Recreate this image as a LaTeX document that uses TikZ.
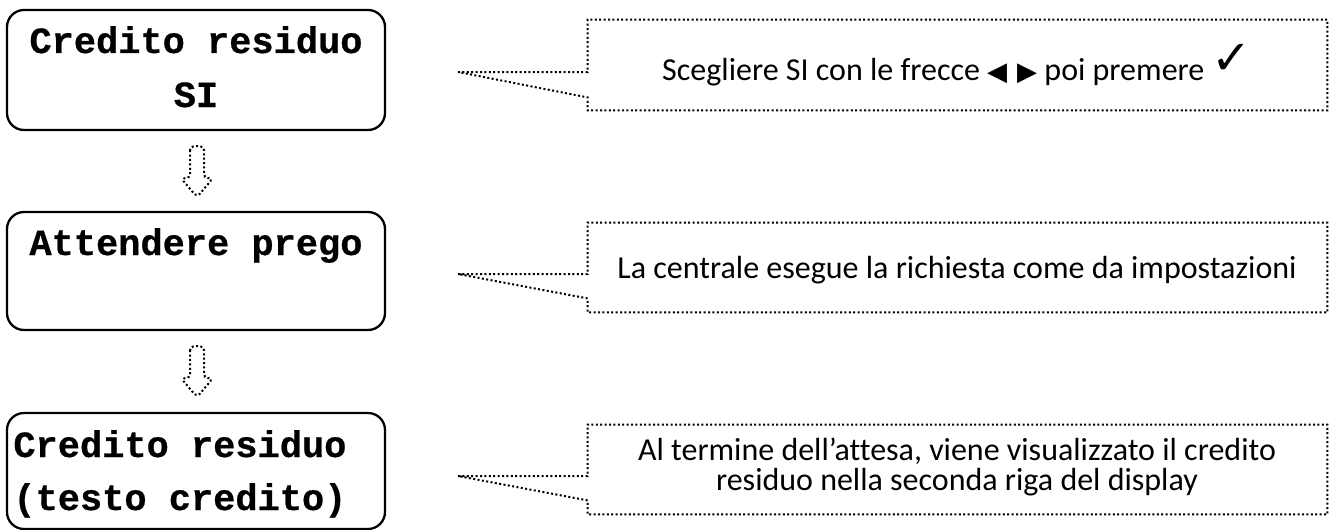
\documentclass[tikz,border=0pt]{standalone}
\usepackage{fontspec}
\usepackage{graphicx}
\setmainfont{Carlito}[Ligatures=NoCommon]
\newfontfamily\monob{Liberation Mono Bold}[FakeBold=0.6]
\newfontfamily\symf{DejaVu Sans}
\usetikzlibrary{calc}
\begin{document}
\begin{tikzpicture}[x=0.5pt,y=-0.5pt,
  screen/.style={draw=black, line width=1.15pt, rounded corners=8.5pt, minimum width=189pt, inner sep=0pt},
  boxtxt/.style={font=\monob\fontsize{18.5}{22}\selectfont, inner sep=0pt},
  calltxt/.style={font=\fontsize{16}{17}\selectfont, inner sep=0pt},
  dotline/.style={line width=1pt, dash pattern=on 1pt off 1.2pt},
  rectspot/.style={draw=none, minimum width=369.5pt, minimum height=#1, inner sep=0pt},
]
\useasboundingbox (0,0) rectangle (1335,530);

% screens
\node[screen, minimum height=60pt] (b1) at (196,70) {};
\node[screen, minimum height=59pt] (b2) at (196,271) {};
\node[screen, minimum height=58pt] (b3) at (196,471) {};

\node[boxtxt, anchor=base] (t1a) at (196,53) {Credito residuo};
\node[boxtxt, anchor=base] (t1b) at (196,107) {SI};
\node[boxtxt, anchor=base] (t2a) at (196,255) {Attendere prego};
\node[boxtxt, anchor=base west] (t3a) at (13,457) {Credito residuo};
\node[boxtxt, anchor=base west] (t3b) at (13,510) {(testo credito)};

% dotted block arrows
\foreach \src in {b1,b2}{
  \draw[dotline, rounded corners=2pt]
    ($(\src.south)+(-6,15)$) -- ($(\src.south)+(-6,47)$) -- ($(\src.south)+(-15,47)$)
    -- ($(\src.south)+(1,66)$) -- ($(\src.south)+(17,47)$) -- ($(\src.south)+(8,47)$)
    -- ($(\src.south)+(8,15)$) -- cycle;
}

% callouts
\node[rectspot=45pt] (c1) at (957.5,65) {};
\node[rectspot=44.5pt] (c2) at (957.5,267.5) {};
\node[rectspot=44.5pt] (c3) at (957.5,469.5) {};
\coordinate (p1) at (458,72);
\coordinate (p2) at (458,274);
\coordinate (p3) at (458,476);
\draw[dotline] (p1) -- (c1.west |- p1) -- (c1.north west) -- (c1.north east) -- (c1.south east) -- (c1.south west) -- ($(c1.south west)+(0,-13)$) -- cycle;
\draw[dotline] (p2) -- (c2.west |- p2) -- (c2.north west) -- (c2.north east) -- (c2.south east) -- (c2.south west) -- ($(c2.south west)+(0,-14)$) -- cycle;
\draw[dotline] (p3) -- (c3.west |- p3) -- (c3.north west) -- (c3.north east) -- (c3.south east) -- (c3.south west) -- ($(c3.south west)+(0,-14)$) -- cycle;

\node[calltxt, anchor=base] (n1) at (957,80) {Scegliere SI con le frecce {\symf\fontsize{13}{13}\selectfont ◀\hspace{5pt}▶} poi premere \raisebox{3pt}{\symf\fontsize{24}{24}\selectfont ✓}};
\node[calltxt, anchor=base] (n2) at (957,278) {La centrale esegue la richiesta come da impostazioni};
\node[calltxt, anchor=base] (n3a) at (957,460) {Al termine dell’attesa, viene visualizzato il credito};
\node[calltxt, anchor=base] (n3b) at (957,490) {residuo nella seconda riga del display};
\end{tikzpicture}
\end{document}
